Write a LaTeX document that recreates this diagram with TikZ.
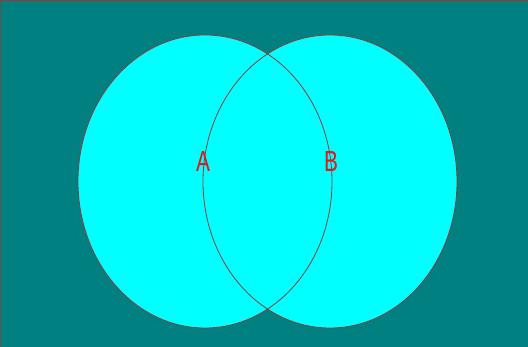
\documentclass[tikz,border=0pt]{standalone}
\usepackage{fontspec}
\setmainfont{Liberation Sans}
\definecolor{bgteal}{HTML}{008080}
\definecolor{vcyan}{HTML}{00FFFF}
\definecolor{edgered}{HTML}{8E3A3A}
\definecolor{labelred}{HTML}{E01818}
\definecolor{frameRed}{HTML}{9A3A2A}
\begin{document}
\begin{tikzpicture}[x=1pt,y=-1pt,
  setfill/.style={fill=vcyan},
  setedge/.style={draw=edgered,line width=0.8pt},
  setlabel/.style={text=labelred,font=\fontsize{29}{30}\selectfont,inner sep=0pt,xscale=0.72}]
\useasboundingbox (0,0) rectangle (528,347);
\fill[bgteal] (0,0) rectangle (528,347);
\draw[frameRed,line width=1.2pt] (0,0.6) -- (528,0.6);
\draw[frameRed!60!bgteal,line width=1.2pt] (0.6,0) -- (0.6,347);
% fills
\fill[setfill] (205,181.5) ellipse [x radius=127, y radius=146.5];
\fill[setfill] (330,181.5) ellipse [x radius=127, y radius=146.5];
% outlines
\draw[setedge] (205,181.5) ellipse [x radius=127, y radius=146.5];
\draw[setedge] (330,181.5) ellipse [x radius=127, y radius=146.5];
% labels
\node[setlabel] (A) at (203,162) {A};
\node[setlabel] (B) at (331,162) {B};
\end{tikzpicture}
\end{document}
